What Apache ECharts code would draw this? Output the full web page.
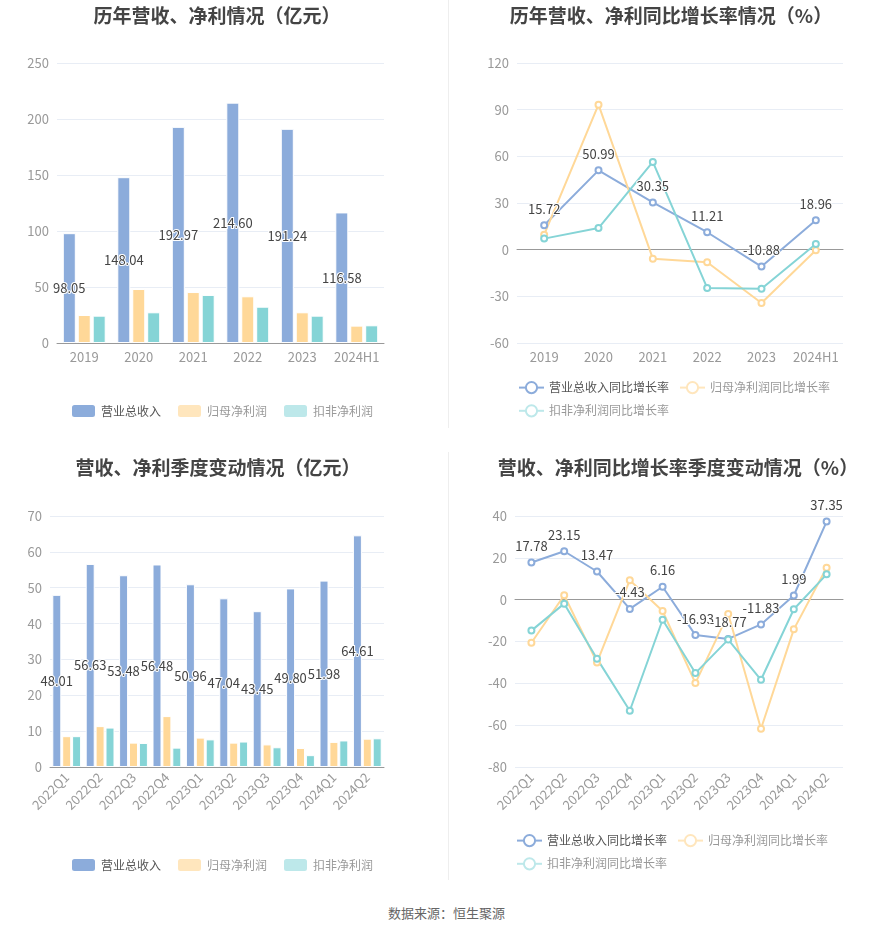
<!DOCTYPE html>
<html>
<head>
<meta charset="utf-8">
<script src="https://cdn.jsdelivr.net/npm/echarts@6/dist/echarts.min.js"></script>
<style>
  html, body { margin: 0; padding: 0; background: #fff; }
  #page { position: relative; width: 893px; height: 935px; font-family: "Noto Sans CJK SC", sans-serif; }
  .chart { position: absolute; width: 445px; height: 440px; }
  .vline { position: absolute; left: 448px; width: 1px; background: #eeeeee; }
  #source { position: absolute; left: 0; width: 893px; top: 903px; text-align: center; font-size: 13px; color: #666; }
</style>
</head>
<body>
<div id="page">
  <div id="c1" class="chart" style="left:0;top:0;width:448px"></div>
  <div id="c2" class="chart" style="left:448px;top:0"></div>
  <div id="c3" class="chart" style="left:0;top:452px;width:448px"></div>
  <div id="c4" class="chart" style="left:448px;top:452px"></div>
  <div class="vline" style="top:0;height:428px"></div>
  <div class="vline" style="top:452px;height:428px"></div>
  <div id="source">数据来源：恒生聚源</div>
</div>
<script>
// 年度数据（亿元）
const yearCats = ['2019', '2020', '2021', '2022', '2023', '2024H1'];
const yearRevenue = [98.05, 148.04, 192.97, 214.60, 191.24, 116.58];
const yearNetProfit = [25.0, 48.2, 45.5, 41.7, 27.4, 15.5];
const yearDeductedProfit = [24.4, 27.4, 42.9, 32.4, 24.4, 15.8];

// 年度同比增长率（%）
const yearRevenueGrowth = [15.72, 50.99, 30.35, 11.21, -10.88, 18.96];
const yearNetGrowth = [9.6, 93.2, -5.8, -8.1, -34.3, -0.4];
const yearDeductedGrowth = [7.1, 13.9, 56.4, -24.6, -25.1, 3.6];

// 季度数据（亿元）
const quarterCats = ['2022Q1', '2022Q2', '2022Q3', '2022Q4', '2023Q1', '2023Q2', '2023Q3', '2023Q4', '2024Q1', '2024Q2'];
const quarterRevenue = [48.01, 56.63, 53.48, 56.48, 50.96, 47.04, 43.45, 49.80, 51.98, 64.61];
const quarterNetProfit = [8.6, 11.4, 6.8, 14.2, 8.2, 6.8, 6.3, 5.3, 7.0, 7.9];
const quarterDeductedProfit = [8.6, 11.0, 6.7, 5.4, 7.7, 7.1, 5.5, 3.3, 7.4, 8.0];

// 季度同比增长率（%）
const quarterRevenueGrowth = [17.78, 23.15, 13.47, -4.43, 6.16, -16.93, -18.77, -11.83, 1.99, 37.35];
const quarterNetGrowth = [-20.6, 2.1, -30.0, 9.3, -5.4, -39.9, -6.9, -61.7, -14.2, 15.3];
const quarterDeductedGrowth = [-14.8, -1.9, -28.2, -53.1, -9.6, -35.1, -19.1, -38.3, -4.6, 12.1];

const FONT = 'Noto Sans CJK SC';
const BLUE = '#8cacdb', YELLOW = '#ffd898', TEAL = '#85d4d6';
const YELLOW_PALE = '#ffe6bd', TEAL_PALE = '#bde8ea';

const barNames = ['营业总收入', '归母净利润', '扣非净利润'];
const lineNames = ['营业总收入同比增长率', '归母净利润同比增长率', '扣非净利润同比增长率'];

function titleOpt(text, center) {
    return {
        text: text,
        left: center,
        textAlign: 'center',
        top: 1,
        textStyle: { fontFamily: FONT, fontSize: 19, fontWeight: 'bold', color: '#444' }
    };
}

const valueLabel = {
    color: '#444',
    fontFamily: FONT,
    fontSize: 13,
    textBorderColor: '#fff',
    textBorderWidth: 2,
    formatter: p => p.value.toFixed(2)
};

function yAxisOpt(min, max, interval) {
    return {
        type: 'value', min: min, max: max, interval: interval,
        axisLine: { show: false },
        axisTick: { show: false },
        axisLabel: { color: '#999', fontSize: 13, fontFamily: FONT },
        splitLine: { lineStyle: { color: '#e8edf5' } }
    };
}

function barChart(dom, title, titleX, cats, rev, net, ded, grid, legendTop, barW, gap, rotate) {
    const chart = echarts.init(document.getElementById(dom));
    chart.setOption({
        animation: false,
        title: titleOpt(title, titleX),
        legend: {
            top: legendTop,
            left: 65,
            itemWidth: 25, itemHeight: 14, itemGap: 15,
            textStyle: { fontFamily: FONT, fontSize: 12, color: '#999' },
            data: [
                { name: barNames[0], itemStyle: { color: BLUE }, textStyle: { color: '#555' } },
                { name: barNames[1], itemStyle: { color: YELLOW_PALE } },
                { name: barNames[2], itemStyle: { color: TEAL_PALE } }
            ]
        },
        grid: grid,
        xAxis: {
            type: 'category', data: cats,
            axisLine: { lineStyle: { color: '#999' } },
            axisTick: { alignWithLabel: true, lineStyle: { color: '#999' } },
            axisLabel: { color: '#999', fontSize: 13, fontFamily: FONT, rotate: rotate, interval: 0 }
        },
        yAxis: yAxisOpt(grid.min, grid.max, grid.interval),
        series: [
            { name: barNames[0], type: 'bar', data: rev, barWidth: barW, barGap: gap,
              itemStyle: { color: BLUE, borderColor: '#fff', borderWidth: 1 },
              label: Object.assign({ show: true, position: 'inside' }, valueLabel) },
            { name: barNames[1], type: 'bar', data: net, barWidth: barW, barGap: gap,
              itemStyle: { color: YELLOW, borderColor: '#fff', borderWidth: 1 } },
            { name: barNames[2], type: 'bar', data: ded, barWidth: barW, barGap: gap,
              itemStyle: { color: TEAL, borderColor: '#fff', borderWidth: 1 } }
        ]
    });
}

function lineChart(dom, title, titleX, cats, rev, net, ded, grid, legendTop, rotate) {
    const chart = echarts.init(document.getElementById(dom));
    const axisCommon = { type: 'category', data: cats, gridIndex: 0 };
    const lineSeries = (name, data, color, withLabel) => ({
        name: name, type: 'line', data: data,
        symbol: 'emptyCircle', symbolSize: 6,
        lineStyle: { width: 2, color: color },
        itemStyle: { color: color },
        label: withLabel ? Object.assign({ show: true, position: 'top', distance: 6 }, valueLabel) : { show: false }
    });
    chart.setOption({
        animation: false,
        title: titleOpt(title, titleX),
        legend: {
            top: legendTop,
            left: grid.left - 4,
            width: 340,
            itemWidth: 25, itemHeight: 14, itemGap: 10,
            textStyle: { fontFamily: FONT, fontSize: 12, color: '#999' },
            data: [
                { name: lineNames[0], textStyle: { color: '#555' } },
                { name: lineNames[1], itemStyle: { color: YELLOW_PALE }, lineStyle: { color: YELLOW_PALE } },
                { name: lineNames[2], itemStyle: { color: TEAL_PALE }, lineStyle: { color: TEAL_PALE } }
            ]
        },
        grid: grid,
        xAxis: [
            Object.assign({}, axisCommon, {
                axisLine: { show: false, onZero: false },
                axisTick: { show: false },
                axisLabel: { color: '#999', fontSize: 13, fontFamily: FONT, rotate: rotate, interval: 0 }
            }),
            Object.assign({}, axisCommon, {
                position: 'bottom',
                axisLine: { onZero: true, lineStyle: { color: '#999' } },
                axisTick: { alignWithLabel: true, lineStyle: { color: '#999' } },
                axisLabel: { show: false }
            })
        ],
        yAxis: yAxisOpt(grid.min, grid.max, grid.interval),
        series: [
            lineSeries(lineNames[0], rev, BLUE, true),
            lineSeries(lineNames[1], net, YELLOW, false),
            lineSeries(lineNames[2], ded, TEAL, false)
        ]
    });
}

barChart('c1', '历年营收、净利情况（亿元）', 212, yearCats, yearRevenue, yearNetProfit, yearDeductedProfit,
    { left: 57, top: 63, width: 327, height: 280, min: 0, max: 250, interval: 50 }, 398, 13, '15%', 0);

lineChart('c2', '历年营收、净利同比增长率情况（%）', 218, yearCats, yearRevenueGrowth, yearNetGrowth, yearDeductedGrowth,
    { left: 69, top: 63, width: 326, height: 280, min: -60, max: 120, interval: 30 }, 376, 0);

barChart('c3', '营收、净利季度变动情况（亿元）', 213, quarterCats, quarterRevenue, quarterNetProfit, quarterDeductedProfit,
    { left: 50, top: 64, width: 334, height: 251, min: 0, max: 70, interval: 10 }, 400, 9, '10%', 45);

lineChart('c4', '营收、净利同比增长率季度变动情况（%）', 225, quarterCats, quarterRevenueGrowth, quarterNetGrowth, quarterDeductedGrowth,
    { left: 67, top: 64, width: 328, height: 251, min: -80, max: 40, interval: 20 }, 377, 45);
</script>
</body>
</html>
